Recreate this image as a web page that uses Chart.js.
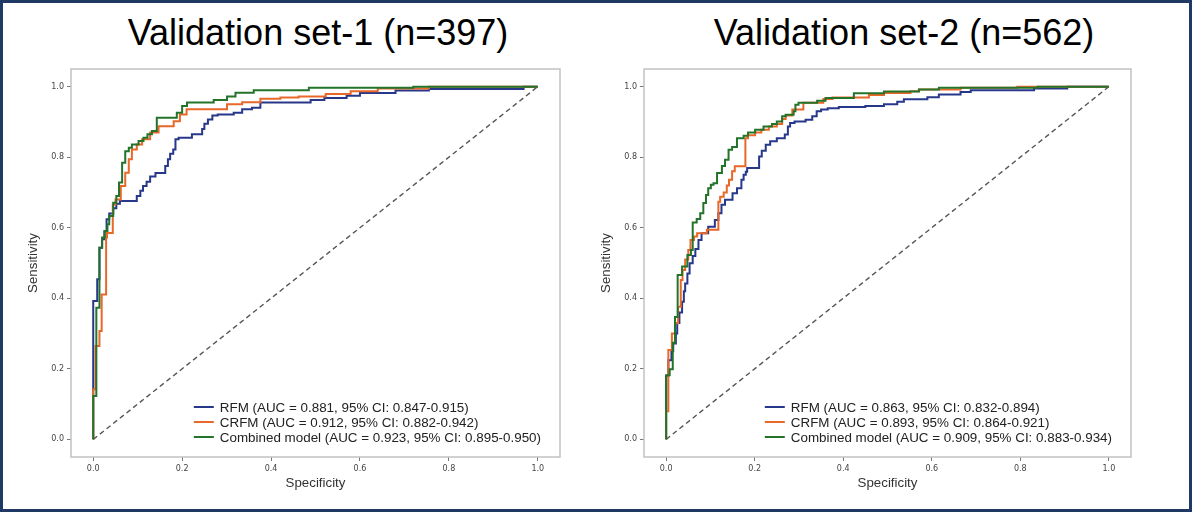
<!DOCTYPE html>
<html>
<head>
<meta charset="utf-8">
<script src="https://cdn.jsdelivr.net/npm/chart.js@4.4.1/dist/chart.umd.min.js"></script>
<style>
  html, body { margin: 0; padding: 0; background: #fff; }
  #page { position: relative; width: 1192px; height: 512px; box-sizing: border-box; border: 3px solid #1f3864; overflow: hidden; }
  .title { position: absolute; top: 12px; width: 560px; text-align: center; font: 36px "Liberation Sans", Arial, sans-serif; line-height: 36px; color: #000; }
  canvas { position: absolute; top: 57px; }
</style>
</head>
<body>
<div id="page">
  <div class="title" id="title1" style="left: 35px;"></div>
  <div class="title" id="title2" style="left: 621px;"></div>
  <canvas id="roc1" width="590" height="450" style="left: -3px;"></canvas>
  <canvas id="roc2" width="588" height="450" style="left: 570px;"></canvas>
</div>
<script>
// titles and legend text
const titles = ['Validation set-1 (n=397)', 'Validation set-2 (n=562)'];
const set1Labels = [
  'RFM (AUC = 0.881, 95% CI: 0.847-0.915)',
  'CRFM (AUC = 0.912, 95% CI: 0.882-0.942)',
  'Combined model (AUC = 0.923, 95% CI: 0.895-0.950)'
];
const set2Labels = [
  'RFM (AUC = 0.863, 95% CI: 0.832-0.894)',
  'CRFM (AUC = 0.893, 95% CI: 0.864-0.921)',
  'Combined model (AUC = 0.909, 95% CI: 0.883-0.934)'
];
const tickValues = [0, 0.2, 0.4, 0.6, 0.8, 1.0];

// ROC points [1 - specificity, sensitivity]
const set1Rfm = [[0,0],[0.009,0.392],[0.014,0.454],[0.02,0.543],[0.025,0.567],[0.03,0.59],[0.036,0.624],[0.045,0.64],[0.052,0.655],[0.06,0.668],[0.098,0.676],[0.106,0.69],[0.112,0.705],[0.12,0.718],[0.128,0.73],[0.14,0.745],[0.162,0.755],[0.168,0.775],[0.173,0.794],[0.18,0.81],[0.185,0.822],[0.192,0.851],[0.222,0.855],[0.245,0.865],[0.25,0.88],[0.258,0.895],[0.268,0.907],[0.28,0.918],[0.316,0.921],[0.335,0.926],[0.357,0.936],[0.376,0.94],[0.489,0.955],[0.52,0.962],[0.57,0.968],[0.6,0.974],[0.68,0.982],[0.755,0.989],[0.968,0.993],[1,1]];
const set1Crfm = [[0,0],[0.005,0.142],[0.014,0.265],[0.019,0.307],[0.029,0.411],[0.031,0.572],[0.044,0.585],[0.05,0.666],[0.062,0.68],[0.072,0.718],[0.08,0.756],[0.087,0.794],[0.098,0.822],[0.11,0.836],[0.128,0.851],[0.147,0.87],[0.181,0.888],[0.195,0.902],[0.21,0.921],[0.301,0.936],[0.335,0.95],[0.376,0.956],[0.421,0.966],[0.462,0.969],[0.523,0.972],[0.579,0.979],[0.64,0.987],[0.755,0.995],[1,1]];
const set1Comb = [[0,0],[0.007,0.123],[0.014,0.373],[0.02,0.543],[0.026,0.572],[0.032,0.591],[0.036,0.61],[0.045,0.633],[0.052,0.671],[0.058,0.69],[0.065,0.728],[0.072,0.784],[0.08,0.817],[0.087,0.827],[0.102,0.836],[0.113,0.846],[0.122,0.855],[0.132,0.865],[0.143,0.874],[0.188,0.912],[0.2,0.926],[0.211,0.945],[0.271,0.955],[0.301,0.962],[0.32,0.972],[0.361,0.983],[0.485,0.99],[0.72,0.997],[1,1]];

const set2Rfm = [[0,0],[0.005,0.18],[0.012,0.224],[0.016,0.25],[0.022,0.272],[0.025,0.3],[0.03,0.33],[0.036,0.36],[0.04,0.39],[0.043,0.42],[0.048,0.442],[0.053,0.47],[0.06,0.499],[0.066,0.52],[0.073,0.54],[0.08,0.565],[0.095,0.584],[0.11,0.603],[0.118,0.622],[0.125,0.641],[0.133,0.665],[0.15,0.679],[0.16,0.698],[0.17,0.712],[0.175,0.736],[0.18,0.75],[0.183,0.759],[0.21,0.769],[0.216,0.802],[0.225,0.818],[0.235,0.835],[0.25,0.845],[0.268,0.854],[0.275,0.864],[0.28,0.887],[0.29,0.897],[0.315,0.901],[0.33,0.906],[0.34,0.916],[0.35,0.93],[0.365,0.935],[0.39,0.939],[0.45,0.942],[0.492,0.945],[0.522,0.95],[0.537,0.957],[0.59,0.964],[0.616,0.97],[0.665,0.978],[0.688,0.985],[0.831,0.99],[0.906,0.995],[1,1]];
const set2Crfm = [[0,0],[0.005,0.08],[0.013,0.253],[0.02,0.3],[0.027,0.329],[0.033,0.376],[0.037,0.452],[0.043,0.48],[0.05,0.51],[0.055,0.537],[0.063,0.565],[0.07,0.575],[0.092,0.584],[0.118,0.594],[0.122,0.674],[0.13,0.688],[0.137,0.7],[0.142,0.72],[0.149,0.736],[0.155,0.76],[0.179,0.774],[0.185,0.854],[0.201,0.862],[0.215,0.87],[0.232,0.878],[0.25,0.887],[0.262,0.894],[0.27,0.908],[0.285,0.918],[0.31,0.935],[0.355,0.954],[0.376,0.965],[0.458,0.969],[0.492,0.976],[0.552,0.982],[0.571,0.987],[0.665,0.992],[0.793,0.997],[1,1]];
const set2Comb = [[0,0],[0.008,0.182],[0.015,0.199],[0.02,0.274],[0.026,0.347],[0.036,0.466],[0.048,0.49],[0.056,0.523],[0.06,0.537],[0.069,0.615],[0.077,0.625],[0.084,0.641],[0.09,0.67],[0.095,0.693],[0.101,0.712],[0.107,0.722],[0.115,0.726],[0.126,0.755],[0.133,0.775],[0.141,0.793],[0.149,0.821],[0.16,0.829],[0.175,0.854],[0.185,0.861],[0.201,0.87],[0.22,0.878],[0.239,0.887],[0.25,0.894],[0.262,0.901],[0.27,0.916],[0.288,0.92],[0.292,0.93],[0.299,0.949],[0.341,0.954],[0.36,0.96],[0.424,0.968],[0.492,0.981],[0.571,0.986],[0.616,0.992],[0.839,0.997],[1,1]];

const chanceLine = [[0, 0], [1, 1]];
const colors = ['#27378a', '#e8682a', '#23742a'];

function pts(arr) {
  return arr.map(p => ({ x: p[0], y: p[1] }));
}

// frame box round the plot, like matplotlib spines
const frameBox = {
  id: 'frameBox',
  afterDraw(chart) {
    const a = chart.chartArea;
    const ctx = chart.ctx;
    ctx.save();
    ctx.strokeStyle = '#c2c2c2';
    ctx.lineWidth = 1.5;
    ctx.strokeRect(a.left, a.top, a.right - a.left, a.bottom - a.top);
    ctx.restore();
  }
};

// legend in lower right, inside the axes
const insideLegend = {
  id: 'insideLegend',
  afterDatasetsDraw(chart) {
    const ctx = chart.ctx;
    const a = chart.chartArea;
    const items = chart.data.datasets.filter(d => d.label);
    ctx.save();
    ctx.font = '13.4px "Liberation Sans", Arial, sans-serif';
    const w = Math.max(...items.map(d => ctx.measureText(d.label).width));
    const x0 = a.right - 19 - w - 26;
    let y = a.bottom - 20 - (items.length - 1) * 15;
    items.forEach(d => {
      ctx.strokeStyle = d.borderColor;
      ctx.lineWidth = 2;
      ctx.beginPath();
      ctx.moveTo(x0, y);
      ctx.lineTo(x0 + 20, y);
      ctx.stroke();
      ctx.fillStyle = '#222';
      ctx.textBaseline = 'middle';
      ctx.fillText(d.label, x0 + 26, y + 1);
      y += 15;
    });
    ctx.restore();
  }
};

function axis(title, isY) {
  return {
    type: 'linear',
    min: -0.05,
    max: 1.05,
    afterBuildTicks: s => { s.ticks = tickValues.map(v => ({ value: v })); },
    afterFit: s => { if (isY) s.width = 71; else s.height = 53; },
    grid: { drawOnChartArea: false, drawTicks: true, tickLength: 4, color: '#777', lineWidth: 1 },
    border: { display: false },
    ticks: {
      padding: 3,
      color: '#444',
      font: { family: '"DejaVu Sans", sans-serif', size: 8 },
      callback: v => v.toFixed(1)
    },
    title: {
      display: true,
      text: title,
      color: '#333',
      font: { family: '"Liberation Sans", Arial, sans-serif', size: 13.3 },
      padding: isY ? { top: 25, bottom: 0 } : { top: 0, bottom: 19 }
    }
  };
}

function makeRoc(id, labels, rfm, crfm, comb) {
  const curves = [rfm, crfm, comb];
  const datasets = curves.map((c, i) => ({
    label: labels[i],
    data: pts(c),
    borderColor: colors[i],
    borderWidth: 2,
    stepped: 'after',
    pointRadius: 0,
    fill: false,
    order: 2 - i
  }));
  datasets.push({
    label: '',
    data: pts(chanceLine),
    borderColor: '#555',
    borderWidth: 1.4,
    borderDash: [5, 3.5],
    pointRadius: 0,
    fill: false,
    order: 3
  });
  new Chart(document.getElementById(id), {
    type: 'scatter',
    data: { datasets: datasets },
    options: {
      responsive: false,
      animation: false,
      showLine: true,
      layout: { padding: { top: 9, right: 30, left: 0, bottom: 0 } },
      plugins: { legend: { display: false }, tooltip: { enabled: false } },
      scales: { x: axis('Specificity', false), y: axis('Sensitivity', true) }
    },
    plugins: [frameBox, insideLegend]
  });
}

document.getElementById('title1').textContent = titles[0];
document.getElementById('title2').textContent = titles[1];
makeRoc('roc1', set1Labels, set1Rfm, set1Crfm, set1Comb);
makeRoc('roc2', set2Labels, set2Rfm, set2Crfm, set2Comb);
</script>
</body>
</html>
